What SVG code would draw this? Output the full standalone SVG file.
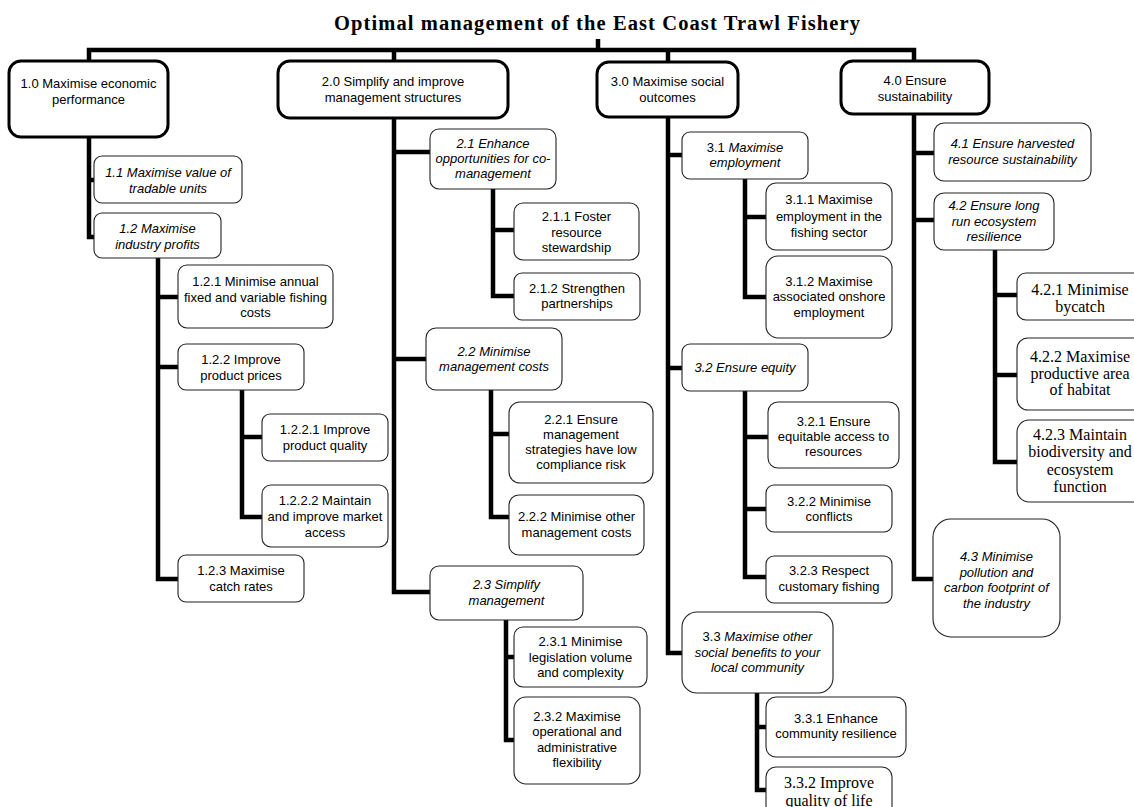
<svg xmlns="http://www.w3.org/2000/svg" width="1134" height="807" viewBox="0 0 1134 807">
<style>
.bg{fill:#fff}
.top{fill:#fff;stroke:#000;stroke-width:3}
.box{fill:#fff;stroke:#222;stroke-width:1.1}
.t{font-family:"Liberation Sans",Arial,sans-serif;font-size:13px;fill:#000;text-anchor:middle}
.i{font-style:italic}
.u{font-style:normal}
.s{font-family:"Liberation Serif","Times New Roman",serif;font-size:16px;fill:#000;text-anchor:middle}
.title{font-family:"Liberation Serif","Times New Roman",serif;font-size:20.5px;font-weight:bold;fill:#000;text-anchor:middle}
.c{fill:none;stroke:#000;stroke-width:4.5;stroke-linejoin:miter;stroke-linecap:butt}
</style>
<rect class="bg" x="0" y="0" width="1134" height="807"/>
<text id="title" class="title" x="597" y="30" textLength="526" lengthAdjust="spacing">Optimal management of the East Coast Trawl Fishery</text>
<g id="connectors" class="c">
<path d="M598,39 V50"/>
<path d="M89,62 V50 H914 V62"/>
<path d="M394,50 V62"/>
<path d="M668,50 V63"/>
<path d="M89,137 V237 H95"/>
<path d="M89,180 H95"/>
<path d="M158,258 V579 H179"/>
<path d="M158,297 H179"/>
<path d="M158,367 H179"/>
<path d="M242,390 V517 H263"/>
<path d="M242,437 H263"/>
<path d="M394,118 V592 H431"/>
<path d="M394,152 H431"/>
<path d="M394,359 H427"/>
<path d="M493,189 V296 H515"/>
<path d="M493,230 H515"/>
<path d="M491,390 V517 H510"/>
<path d="M491,434 H510"/>
<path d="M506,620 V740 H515"/>
<path d="M506,657 H515"/>
<path d="M668,117 V653 H683"/>
<path d="M668,155 H683"/>
<path d="M668,368 H683"/>
<path d="M745,179 V297 H767"/>
<path d="M745,217 H767"/>
<path d="M745,391 V577 H767"/>
<path d="M745,437 H769"/>
<path d="M745,509 H767"/>
<path d="M757,693 V790 H767"/>
<path d="M757,727 H767"/>
<path d="M914,114 V579 H934"/>
<path d="M914,153 H935"/>
<path d="M914,220 H935"/>
<path d="M995,250 V462 H1018"/>
<path d="M995,295 H1018"/>
<path d="M995,375 H1018"/>
</g>
<g id="n1_0"><rect class="top" x="9" y="61" width="159" height="76" rx="12"/><text class="t" x="88.5" y="88"><tspan x="88.5">1.0 Maximise economic</tspan><tspan x="88.5" dy="16">performance</tspan></text></g>
<g id="n2_0"><rect class="top" x="278" y="61" width="230" height="57" rx="12"/><text class="t" x="393" y="86"><tspan x="393">2.0 Simplify and improve</tspan><tspan x="393" dy="16">management structures</tspan></text></g>
<g id="n3_0"><rect class="top" x="597" y="62" width="141" height="55" rx="12"/><text class="t" x="667.5" y="86"><tspan x="667.5">3.0 Maximise social</tspan><tspan x="667.5" dy="16">outcomes</tspan></text></g>
<g id="n4_0"><rect class="top" x="841" y="61" width="148" height="53" rx="12"/><text class="t" x="915" y="85"><tspan x="915">4.0 Ensure</tspan><tspan x="915" dy="16">sustainability</tspan></text></g>
<g id="n1_1"><rect class="box" x="94" y="156" width="148" height="47" rx="8"/><text class="t i" x="168" y="177"><tspan x="168">1.1 Maximise value of</tspan><tspan x="168" dy="16">tradable units</tspan></text></g>
<g id="n1_2"><rect class="box" x="94" y="213" width="127" height="45" rx="8"/><text class="t i" x="157.5" y="233"><tspan x="157.5">1.2 Maximise</tspan><tspan x="157.5" dy="16">industry profits</tspan></text></g>
<g id="n1_2_1"><rect class="box" x="178" y="265" width="155" height="63" rx="9"/><text class="t" x="255.5" y="286"><tspan x="255.5">1.2.1 Minimise annual</tspan><tspan x="255.5" dy="15.5">fixed and variable fishing</tspan><tspan x="255.5" dy="15.5">costs</tspan></text></g>
<g id="n1_2_2"><rect class="box" x="178" y="344" width="126" height="46" rx="8"/><text class="t" x="241" y="364"><tspan x="241">1.2.2 Improve</tspan><tspan x="241" dy="16">product prices</tspan></text></g>
<g id="n1_2_2_1"><rect class="box" x="262" y="414" width="126" height="47" rx="8"/><text class="t" x="325" y="434"><tspan x="325">1.2.2.1 Improve</tspan><tspan x="325" dy="16">product quality</tspan></text></g>
<g id="n1_2_2_2"><rect class="box" x="262" y="485" width="126" height="62" rx="9"/><text class="t" x="325" y="505"><tspan x="325">1.2.2.2 Maintain</tspan><tspan x="325" dy="16">and improve market</tspan><tspan x="325" dy="16">access</tspan></text></g>
<g id="n1_2_3"><rect class="box" x="178" y="555" width="126" height="47" rx="8"/><text class="t" x="241" y="575"><tspan x="241">1.2.3 Maximise</tspan><tspan x="241" dy="16">catch rates</tspan></text></g>
<g id="n2_1"><rect class="box" x="430" y="129" width="126" height="60" rx="9"/><text class="t i" x="493" y="148"><tspan x="493">2.1 Enhance</tspan><tspan x="493" dy="15">opportunities for co-</tspan><tspan x="493" dy="15">management</tspan></text></g>
<g id="n2_1_1"><rect class="box" x="514" y="203" width="125" height="57" rx="9"/><text class="t" x="576.5" y="221"><tspan x="576.5">2.1.1 Foster</tspan><tspan x="576.5" dy="15.5">resource</tspan><tspan x="576.5" dy="15.5">stewardship</tspan></text></g>
<g id="n2_1_2"><rect class="box" x="514" y="273" width="126" height="47" rx="8"/><text class="t" x="577" y="293"><tspan x="577">2.1.2 Strengthen</tspan><tspan x="577" dy="15">partnerships</tspan></text></g>
<g id="n2_2"><rect class="box" x="426" y="328" width="136" height="62" rx="10"/><text class="t i" x="494" y="356"><tspan x="494">2.2 Minimise</tspan><tspan x="494" dy="15">management costs</tspan></text></g>
<g id="n2_2_1"><rect class="box" x="509" y="402" width="144" height="81" rx="11"/><text class="t" x="581" y="424"><tspan x="581">2.2.1 Ensure</tspan><tspan x="581" dy="15">management</tspan><tspan x="581" dy="15">strategies have low</tspan><tspan x="581" dy="15">compliance risk</tspan></text></g>
<g id="n2_2_2"><rect class="box" x="509" y="495" width="135" height="60" rx="10"/><text class="t" x="576.5" y="521"><tspan x="576.5">2.2.2 Minimise other</tspan><tspan x="576.5" dy="16">management costs</tspan></text></g>
<g id="n2_3"><rect class="box" x="430" y="566" width="153" height="54" rx="9"/><text class="t i" x="506.5" y="589"><tspan x="506.5">2.3 Simplify</tspan><tspan x="506.5" dy="16">management</tspan></text></g>
<g id="n2_3_1"><rect class="box" x="514" y="627" width="133" height="60" rx="9"/><text class="t" x="580.5" y="646"><tspan x="580.5">2.3.1 Minimise</tspan><tspan x="580.5" dy="15.5">legislation volume</tspan><tspan x="580.5" dy="15.5">and complexity</tspan></text></g>
<g id="n2_3_2"><rect class="box" x="514" y="697" width="126" height="87" rx="12"/><text class="t" x="577" y="721"><tspan x="577">2.3.2 Maximise</tspan><tspan x="577" dy="15.3">operational and</tspan><tspan x="577" dy="15.3">administrative</tspan><tspan x="577" dy="15.3">flexibility</tspan></text></g>
<g id="n3_1"><rect class="box" x="682" y="132" width="126" height="47" rx="8"/><text class="t i" x="745" y="152"><tspan x="745"><tspan class="u">3.1</tspan> Maximise</tspan><tspan x="745" dy="15">employment</tspan></text></g>
<g id="n3_1_1"><rect class="box" x="766" y="183" width="126" height="67" rx="10"/><text class="t" x="829" y="204"><tspan x="829">3.1.1 Maximise</tspan><tspan x="829" dy="16.5">employment  in the</tspan><tspan x="829" dy="16">fishing sector</tspan></text></g>
<g id="n3_1_2"><rect class="box" x="766" y="256" width="126" height="82" rx="12"/><text class="t" x="829" y="286"><tspan x="829">3.1.2 Maximise</tspan><tspan x="829" dy="15">associated onshore</tspan><tspan x="829" dy="16">employment</tspan></text></g>
<g id="n3_2"><rect class="box" x="682" y="344" width="126" height="47" rx="8"/><text class="t i" x="745" y="372">3.2 Ensure equity</text></g>
<g id="n3_2_1"><rect class="box" x="768" y="402" width="131" height="66" rx="10"/><text class="t" x="833.5" y="426"><tspan x="833.5">3.2.1 Ensure</tspan><tspan x="833.5" dy="15">equitable access to</tspan><tspan x="833.5" dy="15">resources</tspan></text></g>
<g id="n3_2_2"><rect class="box" x="766" y="485" width="126" height="47" rx="8"/><text class="t" x="829" y="506"><tspan x="829">3.2.2 Minimise</tspan><tspan x="829" dy="15">conflicts</tspan></text></g>
<g id="n3_2_3"><rect class="box" x="766" y="556" width="126" height="47" rx="8"/><text class="t" x="829" y="575"><tspan x="829">3.2.3 Respect</tspan><tspan x="829" dy="15.5">customary fishing</tspan></text></g>
<g id="n3_3"><rect class="box" x="682" y="612" width="151" height="81" rx="15"/><text class="t i" x="757.5" y="641"><tspan x="757.5"><tspan class="u">3.3</tspan> Maximise other</tspan><tspan x="757.5" dy="16">social benefits to your</tspan><tspan x="757.5" dy="15">local community</tspan></text></g>
<g id="n3_3_1"><rect class="box" x="766" y="697" width="140" height="60" rx="10"/><text class="t" x="836" y="723"><tspan x="836">3.3.1 Enhance</tspan><tspan x="836" dy="15">community resilience</tspan></text></g>
<g id="n3_3_2"><rect class="box" x="766" y="767" width="126" height="60" rx="10"/><text class="s" x="829" y="788"><tspan x="829">3.3.2 Improve</tspan><tspan x="829" dy="18">quality of life</tspan></text></g>
<g id="n4_1"><rect class="box" x="934" y="123" width="157" height="58" rx="10"/><text class="t i" x="1012.5" y="148"><tspan x="1012.5">4.1 Ensure harvested</tspan><tspan x="1012.5" dy="16">resource sustainability</tspan></text></g>
<g id="n4_2"><rect class="box" x="934" y="193" width="120" height="57" rx="10"/><text class="t i" x="994" y="210"><tspan x="994">4.2 Ensure long</tspan><tspan x="994" dy="15.5">run ecosystem</tspan><tspan x="994" dy="15.5">resilience</tspan></text></g>
<g id="n4_2_1"><rect class="box" x="1017" y="273" width="130" height="47" rx="9"/><text class="s" x="1080" y="295"><tspan x="1080">4.2.1 Minimise</tspan><tspan x="1080" dy="17">bycatch</tspan></text></g>
<g id="n4_2_2"><rect class="box" x="1017" y="338" width="130" height="72" rx="11"/><text class="s" x="1080" y="362"><tspan x="1080">4.2.2 Maximise</tspan><tspan x="1080" dy="16.5">productive area</tspan><tspan x="1080" dy="16.5">of habitat</tspan></text></g>
<g id="n4_2_3"><rect class="box" x="1017" y="420" width="130" height="82" rx="12"/><text class="s" x="1080" y="440"><tspan x="1080">4.2.3 Maintain</tspan><tspan x="1080" dy="17.3">biodiversity and</tspan><tspan x="1080" dy="17.3">ecosystem</tspan><tspan x="1080" dy="17.3">function</tspan></text></g>
<g id="n4_3"><rect class="box" x="933" y="519" width="127" height="118" rx="18"/><text class="t i" x="996.5" y="561"><tspan x="996.5">4.3 Minimise</tspan><tspan x="996.5" dy="15.5">pollution and</tspan><tspan x="996.5" dy="15.5">carbon footprint of</tspan><tspan x="996.5" dy="15.5">the industry</tspan></text></g>
</svg>
